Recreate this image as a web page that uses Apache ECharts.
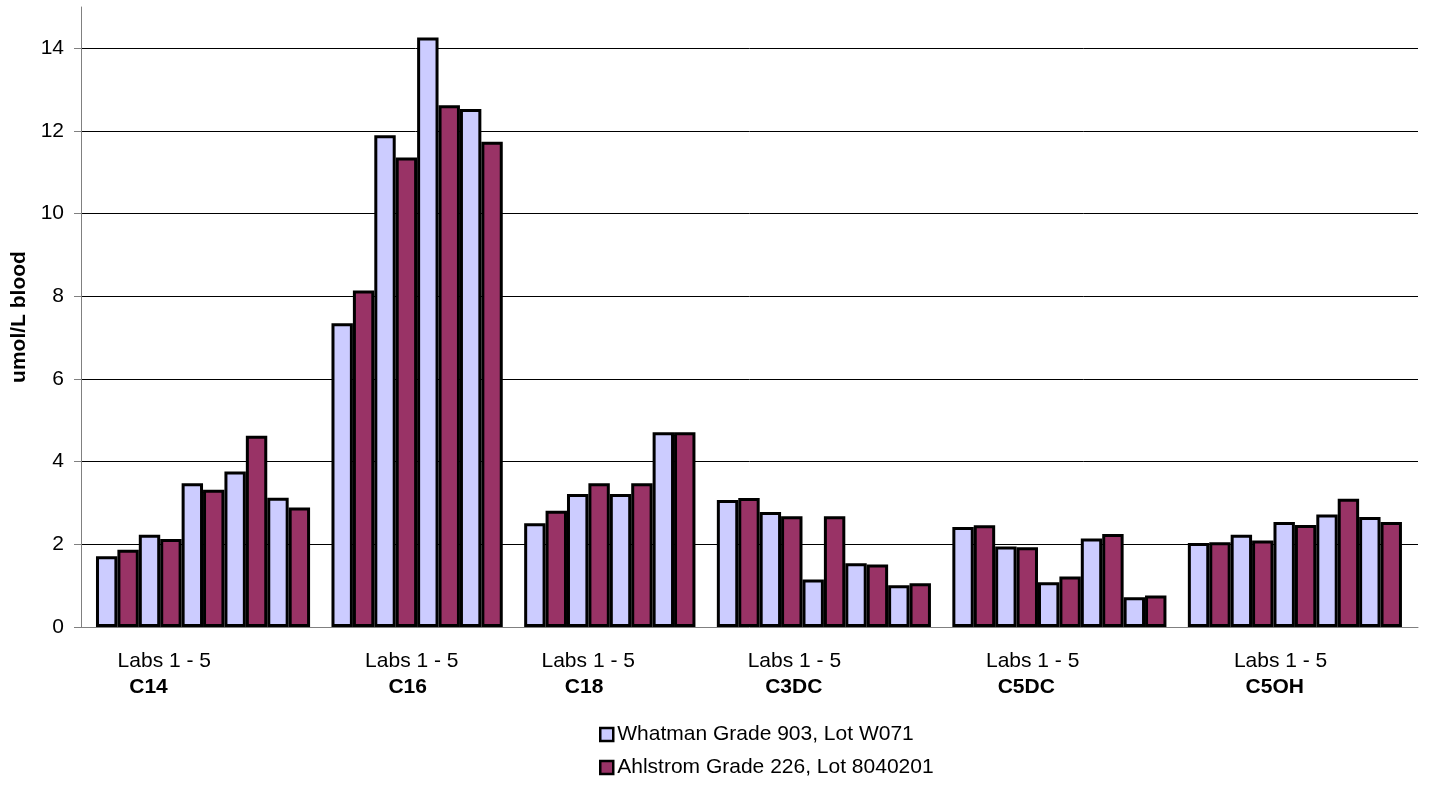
<!DOCTYPE html>
<html>
<head>
<meta charset="utf-8">
<script src="https://cdn.jsdelivr.net/npm/echarts@6/dist/echarts.min.js"></script>
<style>
  html, body { margin: 0; padding: 0; background: #fff; }
  #chart { width: 1429px; height: 786px; }
</style>
</head>
<body>
<div id="chart"></div>
<script>
// ---------- DATA ----------
const groups = ['C14', 'C16', 'C18', 'C3DC', 'C5DC', 'C5OH'];
const labsLabel = 'Labs 1 - 5';
const seriesNames = ['Whatman Grade 903, Lot W071', 'Ahlstrom Grade 226, Lot 8040201'];
const yAxisTitle = 'umol/L blood';
const yTicks = [0, 2, 4, 6, 8, 10, 12, 14];

// values per group, one entry per lab
const whatman = [
  [1.71, 2.23, 3.48, 3.76, 3.13],
  [7.35, 11.90, 14.26, 12.53],
  [2.51, 3.22, 3.22, 4.71],
  [3.07, 2.78, 1.15, 1.54, 1.01],
  [2.42, 1.95, 1.08, 2.14, 0.72],
  [2.03, 2.23, 2.54, 2.72, 2.66]
];
const ahlstrom = [
  [1.87, 2.13, 3.32, 4.63, 2.89],
  [8.14, 11.36, 12.62, 11.74],
  [2.81, 3.48, 3.48, 4.71],
  [3.12, 2.68, 2.68, 1.51, 1.06],
  [2.46, 1.93, 1.22, 2.25, 0.76],
  [2.05, 2.09, 2.47, 3.10, 2.54]
];

// ---------- LAYOUT (not data) ----------
const labelShift = [1.01, 1.57, 0.81, 1.44, 1.57, 2.15]; // in bar slots from group start
const nameIndent = [2, 4, 4, 3, 2, 2];                   // leading spaces before group name
const FONT = '"Liberation Sans", Arial, sans-serif';

// build bar slot positions: pairs of bars per lab, one empty slot between groups
const wData = [], aData = [], groupStart = [];
let slot = 0;
groups.forEach((g, gi) => {
  groupStart.push(slot);
  whatman[gi].forEach((v, i) => {
    wData.push([slot, v]);
    aData.push([slot + 1, ahlstrom[gi][i]]);
    slot += 2;
  });
  slot += 1;
});
const lastSlot = slot - 2;

const chart = echarts.init(document.getElementById('chart'), null, { renderer: 'canvas' });

const barStyle = (color) => ({ color: color, borderColor: '#000', borderWidth: 3 });

chart.setOption({
  animation: false,
  textStyle: { fontFamily: FONT },
  grid: { left: 81, right: 11, top: 7, bottom: 159, containLabel: false },
  legend: {
    orient: 'vertical',
    left: 599,
    top: 724,
    padding: 0,
    itemWidth: 13,
    itemHeight: 13,
    itemGap: 12,
    selectedMode: false,
    icon: 'rect',
    itemStyle: { borderWidth: 2.5 },
    textStyle: { fontSize: 21, color: '#000', fontFamily: FONT, padding: [0, 0, 0, -1] },
    data: seriesNames
  },
  xAxis: {
    type: 'value',
    min: -1.2,
    max: lastSlot + 1.25,
    axisLine: { show: true, onZero: false, lineStyle: { color: '#808080', width: 1 } },
    axisTick: { show: false },
    axisLabel: { show: false },
    splitLine: { show: false }
  },
  yAxis: {
    type: 'value',
    min: 0,
    max: 15,
    interval: 2,
    name: yAxisTitle,
    nameLocation: 'middle',
    nameRotate: 90,
    nameGap: 49,
    nameTextStyle: { fontSize: 21, fontWeight: 'bold', color: '#000', fontFamily: FONT },
    axisLine: { show: true, onZero: false, lineStyle: { color: '#808080', width: 1 } },
    axisTick: { show: true, length: 7, lineStyle: { color: '#808080' }, customValues: yTicks },
    axisLabel: { fontSize: 21, color: '#000', margin: 17, fontFamily: FONT, customValues: yTicks },
    splitLine: { show: true, showMinLine: false, lineStyle: { color: '#000', width: 1 } }
  },
  series: [
    {
      name: seriesNames[0],
      type: 'bar',
      data: wData,
      barWidth: '100%',
      barGap: '-100%',
      itemStyle: barStyle('#CCCCFF')
    },
    {
      name: seriesNames[1],
      type: 'bar',
      data: aData,
      barWidth: '100%',
      barGap: '-100%',
      itemStyle: barStyle('#993366')
    }
  ]
});

// group labels placed through the axis scale
const graphics = [];
groups.forEach((g, gi) => {
  const u = groupStart[gi] - 0.5 + labelShift[gi];
  const p = chart.convertToPixel({ xAxisIndex: 0, yAxisIndex: 0 }, [u, 0]);
  graphics.push({
    type: 'text', x: p[0], y: p[1] + 34,
    style: { text: labsLabel, font: '21px ' + FONT, fill: '#000', textAlign: 'left', textVerticalAlign: 'middle' }
  });
  graphics.push({
    type: 'text', x: p[0], y: p[1] + 60,
    style: { text: ' '.repeat(nameIndent[gi]) + g, font: 'bold 21px ' + FONT, fill: '#000', textAlign: 'left', textVerticalAlign: 'middle' }
  });
});
chart.setOption({ graphic: graphics });
</script>
</body>
</html>
